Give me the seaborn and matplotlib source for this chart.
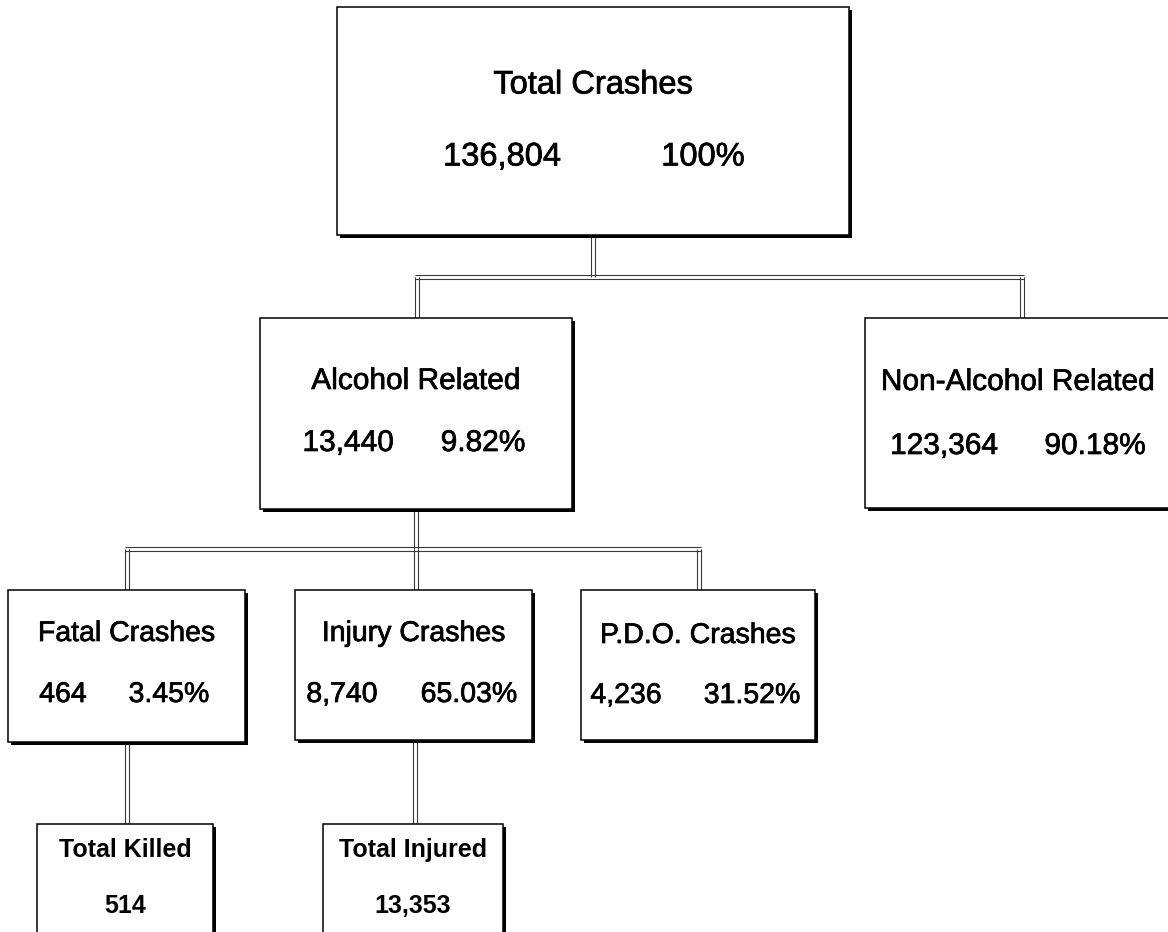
import matplotlib
matplotlib.use("Agg")
import matplotlib.pyplot as plt
from matplotlib.patches import Rectangle
import matplotlib.patheffects as pe
import seaborn as sns

# ---------------- data ----------------
node_ids = ["total", "alcohol", "nonalcohol", "fatal", "injury", "pdo", "killed", "injured"]
node_titles = ["Total Crashes", "Alcohol Related", "Non-Alcohol Related",
               "Fatal Crashes", "Injury Crashes", "P.D.O. Crashes",
               "Total Killed", "Total Injured"]
node_counts = ["136,804", "13,440", "123,364", "464", "8,740", "4,236", "514", "13,353"]
node_pcts = ["100%", "9.82%", "90.18%", "3.45%", "65.03%", "31.52%", None, None]
edges = [("total", ["alcohol", "nonalcohol"]),
         ("alcohol", ["fatal", "injury", "pdo"]),
         ("fatal", ["killed"]),
         ("injury", ["injured"])]

# ---------------- layout (pixel space) ----------------
layout = {
    "total":      dict(box=(337, 849, 7, 235),   ty=85,  ny=157, cx=502,  px=703,  fs=23.5, w="normal"),
    "alcohol":    dict(box=(260, 572, 318, 509), ty=381, ny=443, cx=348,  px=483,  fs=21.5, w="normal"),
    "nonalcohol": dict(box=(865, 1190, 318, 508), ty=382, ny=446, cx=944, px=1095, fs=21.5, w="normal"),
    "fatal":      dict(box=(8, 245, 590, 742),   ty=634, ny=695, cx=63,   px=169,  fs=20.5, w="normal"),
    "injury":     dict(box=(295, 532, 590, 740), ty=634, ny=695, cx=342,  px=469,  fs=20.5, w="normal"),
    "pdo":        dict(box=(581, 815, 590, 740), ty=636, ny=696, cx=626,  px=752,  fs=20.5, w="normal"),
    "killed":     dict(box=(37, 213, 824, 960),  ty=850, ny=906, cx=125,  px=None, fs=18.0, w="bold"),
    "injured":    dict(box=(323, 503, 824, 960), ty=850, ny=906, cx=413,  px=None, fs=18.0, w="bold"),
}
connectors = {
    "total":   dict(x=593, bus=277, kids=[417, 1022]),
    "alcohol": dict(x=416, bus=549, kids=[127, 416, 699]),
    "fatal":   dict(x=127, bus=None, kids=[127]),
    "injury":  dict(x=415, bus=None, kids=[415]),
}

sns.set_theme(style="white")
plt.rcParams["font.family"] = ["Liberation Sans", "DejaVu Sans"]

W, H = 1168, 932
fig = plt.figure(figsize=(W / 100, H / 100), dpi=100)
ax = fig.add_axes([0, 0, 1, 1])
ax.set_xlim(0, W)
ax.set_ylim(H, 0)
ax.axis("off")
fig.patch.set_facecolor("white")

line_kw = dict(color="#3a3a3a", lw=0.8, solid_capstyle="butt", zorder=1)
off = 1.6


def double_v(x, y0, y1):
    ax.plot([x - off, x - off], [y0, y1], **line_kw)
    ax.plot([x + off, x + off], [y0, y1], **line_kw)


def double_h(y, x0, x1):
    ax.plot([x0, x1], [y - off, y - off], **line_kw)
    ax.plot([x0, x1], [y + off, y + off], **line_kw)


for parent, kids in edges:
    c = connectors[parent]
    pb = layout[parent]["box"]
    kid_tops = [layout[k]["box"][2] for k in kids]
    if c["bus"] is None:
        double_v(c["x"], pb[3], kid_tops[0])
    else:
        double_v(c["x"], pb[3], c["bus"])
        double_h(c["bus"], min(c["kids"]) - off, max(c["kids"]) + off)
        for kx, kt in zip(c["kids"], kid_tops):
            double_v(kx, c["bus"], kt)

heavy = [pe.withStroke(linewidth=0.5, foreground="black")]

for nid, title, cnt, pct in zip(node_ids, node_titles, node_counts, node_pcts):
    L = layout[nid]
    x0, x1, y0, y1 = L["box"]
    ax.add_patch(Rectangle((x0 + 3, y0 + 3), x1 - x0, y1 - y0,
                           facecolor="black", edgecolor="black", lw=0, zorder=2))
    ax.add_patch(Rectangle((x0, y0), x1 - x0, y1 - y0,
                           facecolor="white", edgecolor="black", lw=1.1, zorder=3))
    kw = dict(ha="center", va="center", fontsize=L["fs"], fontweight=L["w"],
              color="black", zorder=4)
    if L["w"] == "normal":
        kw["path_effects"] = heavy
    ax.text((x0 + x1) / 2 if nid != "nonalcohol" else 1018, L["ty"], title, **kw)
    ax.text(L["cx"], L["ny"], cnt, **kw)
    if pct is not None:
        ax.text(L["px"], L["ny"], pct, **kw)

fig.savefig("out.png", dpi=100, facecolor="white")
